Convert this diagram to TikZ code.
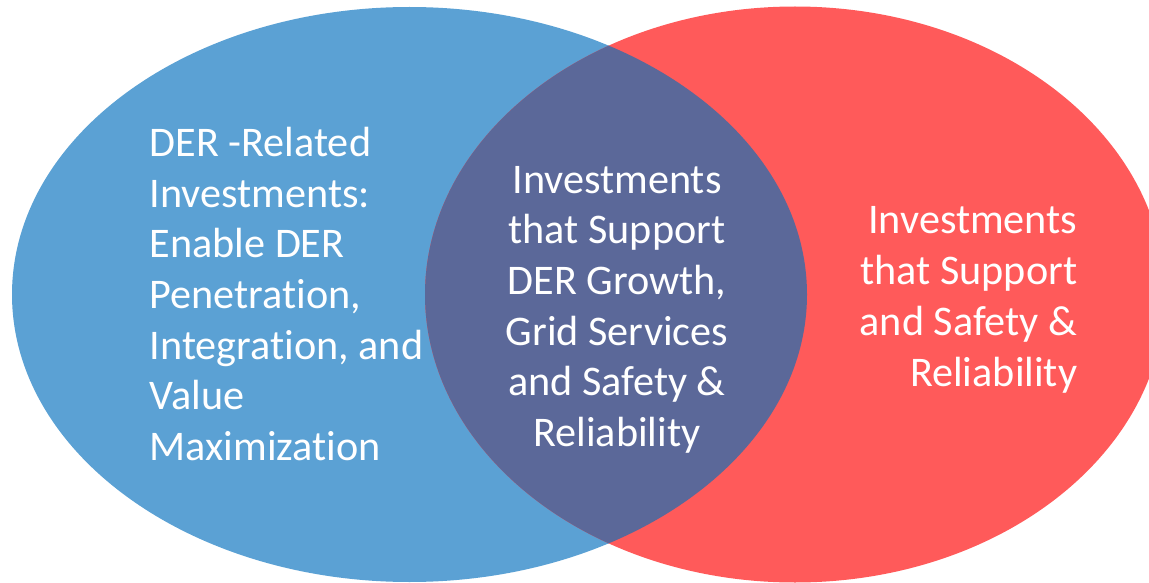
\documentclass[tikz,border=0pt]{standalone}
\usepackage{fontspec}
\setmainfont{Carlito}[Ligatures=NoCommon]
\definecolor{derblue}{RGB}{91,161,212}
\definecolor{safered}{RGB}{255,90,90}
\definecolor{overlap}{RGB}{91,104,153}
\begin{document}
\begin{tikzpicture}[x=1pt,y=-1pt,
  venntext/.style={text=white, inner sep=0pt,
    font=\fontsize{42.2}{50.7}\selectfont}]
\useasboundingbox (0,0) rectangle (1149,583);
\clip (0,0) rectangle (1149,583);
% the two sets
\fill[derblue] (409.5,294.5) ellipse [x radius=397.5, y radius=287.5];
\fill[safered] (795,294.5) ellipse [x radius=370, y radius=288];
% their overlap
\begin{scope}
  \clip (409.5,294.5) ellipse [x radius=397.5, y radius=287.5];
  \fill[overlap] (795,294.5) ellipse [x radius=370, y radius=288];
\end{scope}
% labels (anchored at the baseline of their last line)
\node[venntext, align=left, anchor=base west] (left) at (149.5,460.5)
  {DER -Related\\Investments:\\Enable DER\\Penetration,\\Integration, and\\Value\\Maximization};
\node[venntext, align=center, anchor=base] (mid) at (617,446.5)
  {Investments\\that Support\\DER Growth,\\Grid Services\\and Safety \&\\Reliability};
\node[venntext, align=right, anchor=base east] (right) at (1077.5,386)
  {Investments\\that Support\\and Safety \&\\Reliability};
\end{tikzpicture}
\end{document}
